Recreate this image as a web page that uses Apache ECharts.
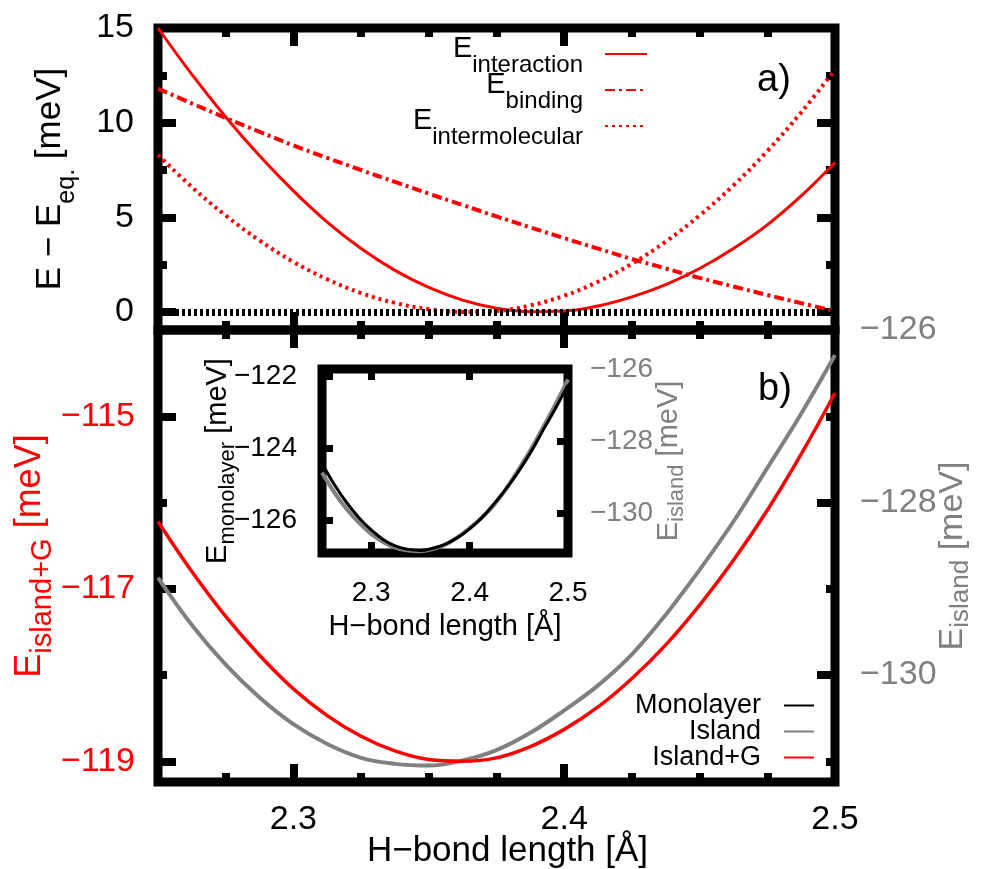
<!DOCTYPE html>
<html>
<head>
<meta charset="utf-8">
<script src="https://cdn.jsdelivr.net/npm/echarts@6/dist/echarts.min.js"></script>
<style>
  html, body { margin: 0; padding: 0; background: #fff; }
  #chart { width: 983px; height: 869px; }
</style>
</head>
<body>
<div id="chart"></div>
<script>
// H-bond length samples (Å)
const bondLength = [2.25, 2.2625, 2.275, 2.2875, 2.3, 2.3125, 2.325, 2.3375, 2.35, 2.3625, 2.375,
                    2.3875, 2.4, 2.4125, 2.425, 2.4375, 2.45, 2.4625, 2.475, 2.4875, 2.5];

// a) energies relative to equilibrium (meV)
const eInteraction    = [15.0, 12.55, 10.3, 8.25, 6.4, 4.75, 3.35, 2.2, 1.3, 0.63, 0.2,
                         0.02, 0.05, 0.32, 0.8, 1.45, 2.3, 3.35, 4.6, 6.13, 7.9];
const eBinding        = [11.8, 11.02, 10.25, 9.52, 8.8, 8.14, 7.5, 6.87, 6.25, 5.65, 5.05,
                         4.47, 3.9, 3.35, 2.8, 2.3, 1.8, 1.35, 0.9, 0.47, 0.05];
const eIntermolecular = [8.3, 6.6, 5.1, 3.78, 2.65, 1.73, 1.0, 0.48, 0.15, 0.0, 0.05,
                         0.35, 0.86, 1.6, 2.55, 3.72, 5.1, 6.69, 8.5, 10.54, 12.8];
const referenceLevel = 0;

// b) absolute energies (meV)
const eMonolayer = [-124.41, -125.0, -125.50, -125.92, -126.26, -126.53, -126.71, -126.80, -126.83, -126.77, -126.66,
                    -126.48, -126.23, -125.92, -125.53, -125.11, -124.63, -124.09, -123.48, -122.88, -122.24];
const eIsland    = [-128.87, -129.42, -129.88, -130.26, -130.57, -130.80, -130.96, -131.03, -131.05, -130.99, -130.87,
                    -130.67, -130.41, -130.12, -129.76, -129.30, -128.78, -128.22, -127.60, -126.97, -126.29];
const eIslandG   = [-116.22, -116.80, -117.32, -117.77, -118.16, -118.47, -118.71, -118.88, -118.98, -119.0, -118.96,
                    -118.83, -118.63, -118.37, -118.04, -117.65, -117.19, -116.67, -116.09, -115.44, -114.73];

// tick positions
const xMajor = [2.3, 2.4, 2.5];
const xMinor = [2.275, 2.325, 2.35, 2.375, 2.425, 2.45, 2.475];
const aMajor = [0, 5, 10, 15];
const aMinor = [2.5, 7.5, 12.5];
const gMajor = [-115, -117, -119];
const gMinor = [-114, -116, -118];
const islMajor = [-126, -128, -130];
const islMinor = [-127, -129, -131];
const insetXTicks = [2.3, 2.4];
const insetXLabels = [2.3, 2.4, 2.5];
const insetMonoTicks = [-122, -124, -126];
const insetIslTicks = [-126, -128, -130];

const FONT = '"Liberation Sans", Arial, Helvetica, sans-serif';
const RED = '#ff0000', GRAY = '#808080', BLACK = '#000000';
const X_RANGE = [2.25, 2.5];

const withMinus = v => String(v).replace('-', '\u2212');
const oneDecimal = v => Number(v).toFixed(1);
const pairs = ys => bondLength.map((x, i) => [x, ys[i]]);

function tickAxis(gridIndex, position, range, ticks, len, width) {
  return {
    type: 'value', gridIndex, position, min: range[0], max: range[1],
    axisLine: { show: false, onZero: false },
    axisTick: { show: true, inside: true, length: len, customValues: ticks,
                lineStyle: { color: BLACK, width: width, cap: 'butt' } },
    axisLabel: { show: false },
    splitLine: { show: false },
    axisPointer: { show: false }
  };
}
function labelled(ax, values, fmt, size, color, margin) {
  ax.axisLabel = { show: true, customValues: values, formatter: fmt, fontSize: size,
                   fontFamily: FONT, color: color, margin: margin };
  return ax;
}
// axis title with a lowered subscript (drop = top padding of the subscript token)
function named(ax, name, gap, main, sub, color, rotate, drop, pad) {
  ax.name = name;
  ax.nameLocation = 'middle';
  ax.nameGap = gap;
  ax.nameMoveOverlap = false;
  if (rotate !== undefined) ax.nameRotate = rotate;
  ax.nameTextStyle = {
    color: color, fontFamily: FONT, fontSize: main,
    padding: pad || 0,
    rich: {
      m: { fontSize: main, lineHeight: main, fontFamily: FONT, color: color },
      s: { fontSize: sub, lineHeight: sub, padding: [drop || 0, 0, 0, 0], fontFamily: FONT, color: color }
    }
  };
  return ax;
}

const A_RANGE = [-0.95, 15];
const G_RANGE = [-119.24, -114];
const I_RANGE = [-131.24, -126];
const INSET_MONO_RANGE = [-126.9, -121.8];
const INSET_ISL_RANGE = [-131.1, -126.0];

const MAJ = 18, MIN = 9, TW = 8;

const xAxes = [
  // panel a
  tickAxis(0, 'bottom', X_RANGE, xMajor, MAJ, TW),
  tickAxis(0, 'bottom', X_RANGE, xMinor, MIN, TW),
  tickAxis(0, 'top', X_RANGE, xMajor, MAJ, TW),
  tickAxis(0, 'top', X_RANGE, xMinor, MIN, TW),
  // panel b
  named(labelled(tickAxis(1, 'bottom', X_RANGE, xMajor, MAJ, TW), xMajor, oneDecimal, 34, BLACK, 21),
        'H\u2212bond length [\u00c5]', 52, 35, 25, BLACK, undefined, 0, [0, 0, 0, 22]),
  tickAxis(1, 'bottom', X_RANGE, xMinor, MIN, TW),
  tickAxis(1, 'top', X_RANGE, xMajor, MAJ, TW),
  tickAxis(1, 'top', X_RANGE, xMinor, MIN, TW),
  // inset
  named(labelled(tickAxis(2, 'bottom', X_RANGE, insetXTicks, 11, 7), insetXLabels, oneDecimal, 28, BLACK, 26),
        'H\u2212bond length [\u00c5]', 59, 29, 22, BLACK),
  tickAxis(2, 'top', X_RANGE, insetXTicks, 11, 7)
];

const yAxes = [
  // panel a
  named(labelled(tickAxis(0, 'left', A_RANGE, aMajor, MAJ, TW), aMajor, v => String(v), 34, BLACK, 24),
        '{m|E \u2212 E}{s|eq.}{m| [meV]}', 90, 35, 25, BLACK, 90, 33),
  tickAxis(0, 'left', A_RANGE, aMinor, MIN, TW),
  tickAxis(0, 'right', A_RANGE, aMajor, MAJ, TW),
  tickAxis(0, 'right', A_RANGE, aMinor, MIN, TW),
  // panel b, left: Island+G
  named(labelled(tickAxis(1, 'left', G_RANGE, gMajor, MAJ, TW), gMajor, withMinus, 34, RED, 23),
        '{m|E}{s|island+G}{m| [meV]}', 110, 36, 29, RED, 90, 26),
  tickAxis(1, 'left', G_RANGE, gMinor, MIN, TW),
  // panel b, right: Island
  named(labelled(tickAxis(1, 'right', I_RANGE, islMajor, MAJ, TW), islMajor, withMinus, 34, GRAY, 25),
        '{m|E}{s|island}{m| [meV]}', 101, 34, 26, GRAY, 90, 16),
  tickAxis(1, 'right', I_RANGE, islMinor, MIN, TW),
  // inset
  named(labelled(tickAxis(2, 'left', INSET_MONO_RANGE, insetMonoTicks, 11, 7), insetMonoTicks, withMinus, 28, BLACK, 25),
        '{m|E}{s|monolayer}{m| [meV]}', 90, 29, 22, BLACK, 90, 21),
  named(labelled(tickAxis(2, 'right', INSET_ISL_RANGE, insetIslTicks, 11, 7), insetIslTicks, withMinus, 28, GRAY, 22),
        '{m|E}{s|island}{m| [meV]}', 86, 29, 22, GRAY, 90, 16)
];

function curve(name, xi, yi, ys, color, width, type, extra) {
  return Object.assign({
    name, type: 'line', xAxisIndex: xi, yAxisIndex: yi, data: pairs(ys),
    smooth: 0.4, symbol: 'none', color: color, clip: true, silent: true,
    lineStyle: { color: color, width: width, type: type || 'solid', cap: 'butt' }
  }, extra || {});
}

const gridBase = { show: true, borderColor: BLACK, borderWidth: 9, z: 3, outerBoundsMode: 'none', containLabel: false };

const option = {
  animation: false,
  backgroundColor: '#ffffff',
  grid: [
    Object.assign({ left: 158, top: 28, width: 677, height: 302 }, gridBase),
    Object.assign({ left: 158, top: 330, width: 677, height: 452 }, gridBase),
    Object.assign({ left: 322, top: 369, width: 246, height: 184 }, gridBase)
  ],
  xAxis: xAxes,
  yAxis: yAxes,
  legend: [
    {
      data: ['interaction', 'binding', 'intermolecular'],
      orient: 'vertical', align: 'right', right: 330, top: 26,
      itemWidth: 42, itemHeight: 14, itemGap: -10, selectedMode: false,
      itemStyle: { opacity: 0 },
      formatter: n => '{m|E}{s|' + n + '}{g| }',
      textStyle: {
        rich: {
          m: { fontSize: 29, lineHeight: 29, padding: [0, 0, 10, 0], fontFamily: FONT, color: BLACK },
          s: { fontSize: 24, lineHeight: 24, padding: [22, 0, 0, 0], fontFamily: FONT, color: BLACK },
          g: { width: 17, fontSize: 10 }
        }
      }
    },
    {
      data: ['Monolayer', 'Island', 'Island+G'],
      orient: 'vertical', align: 'right', right: 163, top: 687,
      itemWidth: 30, itemHeight: 14, itemGap: -1, selectedMode: false,
      itemStyle: { opacity: 0 },
      formatter: n => '{t|' + n + '}{g| }',
      textStyle: {
        rich: {
          t: { fontSize: 27, lineHeight: 26, fontFamily: FONT, color: BLACK },
          g: { width: 18, fontSize: 10 }
        }
      }
    }
  ],
  graphic: [
    { type: 'text', left: 757, top: 62, style: { text: 'a)', fontSize: 38, fontFamily: FONT, fill: BLACK } },
    { type: 'text', left: 758, top: 371, style: { text: 'b)', fontSize: 38, fontFamily: FONT, fill: BLACK } }
  ],
  series: [
    curve('interaction', 0, 0, eInteraction, RED, 3, 'solid', {
      markLine: {
        silent: true, symbol: 'none', label: { show: false },
        lineStyle: { color: BLACK, width: 7, type: [3, 3], cap: 'butt' },
        data: [{ yAxis: referenceLevel }]
      }
    }),
    curve('binding', 0, 0, eBinding, RED, 4, [10, 4, 3, 4]),
    curve('intermolecular', 0, 0, eIntermolecular, RED, 4, [3, 4]),
    curve('Island', 4, 6, eIsland, GRAY, 4),
    curve('Island+G', 4, 4, eIslandG, RED, 3.5),
    curve('Island', 8, 9, eIsland, GRAY, 4),
    curve('Monolayer', 8, 8, eMonolayer, BLACK, 3)
  ]
};

const chart = echarts.init(document.getElementById('chart'), null, { renderer: 'canvas' });
chart.setOption(option);
</script>
</body>
</html>
